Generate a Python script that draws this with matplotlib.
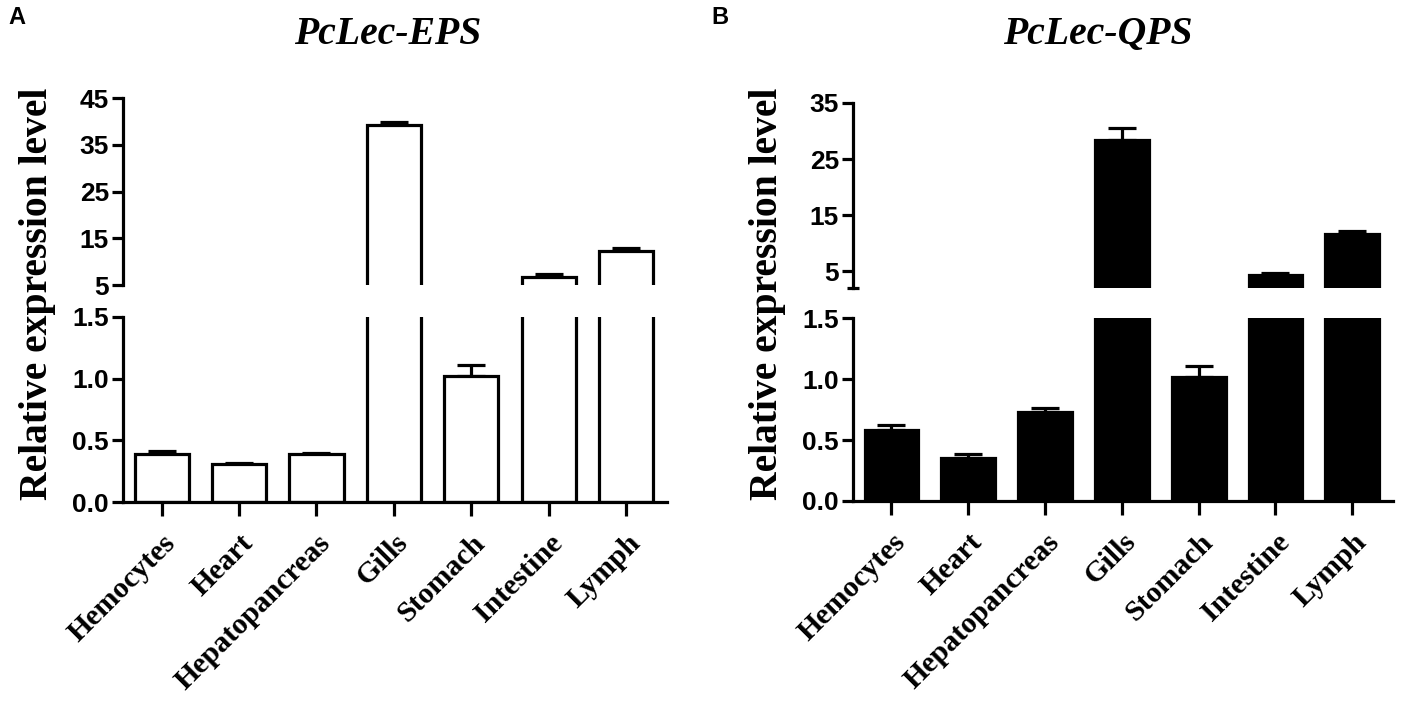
import numpy as np
import matplotlib
matplotlib.use("Agg")
import matplotlib.pyplot as plt
import matplotlib.transforms as mtransforms

tissues = ["Hemocytes", "Heart", "Hepatopancreas", "Gills", "Stomach", "Intestine", "Lymph"]

# PcLec-EPS (panel A)
eps_mean = [0.39, 0.31, 0.39, 39.2, 1.02, 6.7, 12.3]
eps_err = [0.02, 0.01, 0.01, 0.6, 0.09, 0.6, 0.6]

# PcLec-QPS (panel B)
qps_mean = [0.58, 0.35, 0.73, 28.4, 1.02, 4.4, 11.6]
qps_err = [0.04, 0.035, 0.03, 2.2, 0.09, 0.3, 0.5]

W, H = 1405, 706
LW = 2.3
SANS = ["Liberation Sans", "DejaVu Sans"]
SERIF = ["Liberation Serif", "DejaVu Serif"]

fig = plt.figure(figsize=(W / 100, H / 100), dpi=100)


def px_axes(x0, x1, ytop, ybot):
    return fig.add_axes([x0 / W, 1 - ybot / H, (x1 - x0) / W, (ybot - ytop) / H])


def style(ax):
    for s in ["top", "right"]:
        ax.spines[s].set_visible(False)
    for s in ["left", "bottom"]:
        ax.spines[s].set_linewidth(LW)
    ax.tick_params(direction="out", width=LW, length=8, labelsize=19, pad=2)
    ax.tick_params(which="minor", direction="inout", width=LW, length=8)
    for lab in ax.get_yticklabels():
        lab.set_fontfamily(SANS)
        lab.set_fontweight("bold")


def panel(x0, x1, upper_box, lower_box, upper_lim, upper_ticks, mean, err, face):
    x = np.arange(len(tissues))
    up = px_axes(x0, x1, *upper_box)
    lo = px_axes(x0, x1, *lower_box)
    for ax in (up, lo):
        ax.bar(x, mean, width=0.7, color=face, edgecolor="black", linewidth=LW, zorder=2)
        ax.errorbar(x, mean, yerr=[np.zeros(len(x)), err], fmt="none", ecolor="black",
                    elinewidth=LW, capsize=10, capthick=LW, zorder=1)
        ax.set_xlim(-0.5, 6.53)
    up.set_ylim(*upper_lim)
    up.set_yticks(upper_ticks)
    up.set_yticklabels([str(t) for t in upper_ticks])
    up.set_yticks([upper_lim[0]], minor=True)
    up.set_xticks([])
    style(up)
    up.spines["bottom"].set_visible(False)

    lo.set_ylim(0, 1.5)
    lo.set_yticks([0, 0.5, 1.0, 1.5])
    lo.set_yticklabels(["0.0", "0.5", "1.0", "1.5"])
    lo.set_yticks([1.5], minor=True)
    lo.set_xticks(x)
    lo.set_xticklabels(tissues)
    style(lo)
    lo.tick_params(axis="x", which="major", length=10)
    offset = mtransforms.ScaledTranslation(10 / 100, -20 / 100, fig.dpi_scale_trans)
    for lab in lo.get_xticklabels():
        lab.set_rotation(45)
        lab.set_rotation_mode("anchor")
        lab.set_ha("right")
        lab.set_va("center")
        lab.set_fontfamily(SERIF)
        lab.set_fontweight("bold")
        lab.set_fontsize(21.5)
        lab.set_transform(lab.get_transform() + offset)
    return up, lo


panel(123, 667, (98, 285), (317, 502), (5, 45), [5, 15, 25, 35, 45], eps_mean, eps_err, "white")
panel(853, 1393, (103, 288), (318, 501), (2, 35), [5, 15, 25, 35], qps_mean, qps_err, "black")

for xc, title, letter, lx in [(388, "PcLec-EPS", "A", 17), (1098, "PcLec-QPS", "B", 720)]:
    fig.text(xc / W, 1 - 35 / H, title, ha="center", va="center", fontsize=28.5,
             fontfamily=SERIF, fontweight="bold", fontstyle="italic")
    fig.text(lx / W, 1 - 18 / H, letter, ha="center", va="center", fontsize=17,
             fontfamily=SANS, fontweight="bold")

for xl in [38, 768]:
    fig.text(xl / W, 1 - 294 / H, "Relative expression level", rotation=90, ha="center",
             va="center", fontsize=28.5, fontfamily=SERIF, fontweight="bold")

fig.savefig("out.png", dpi=100)
